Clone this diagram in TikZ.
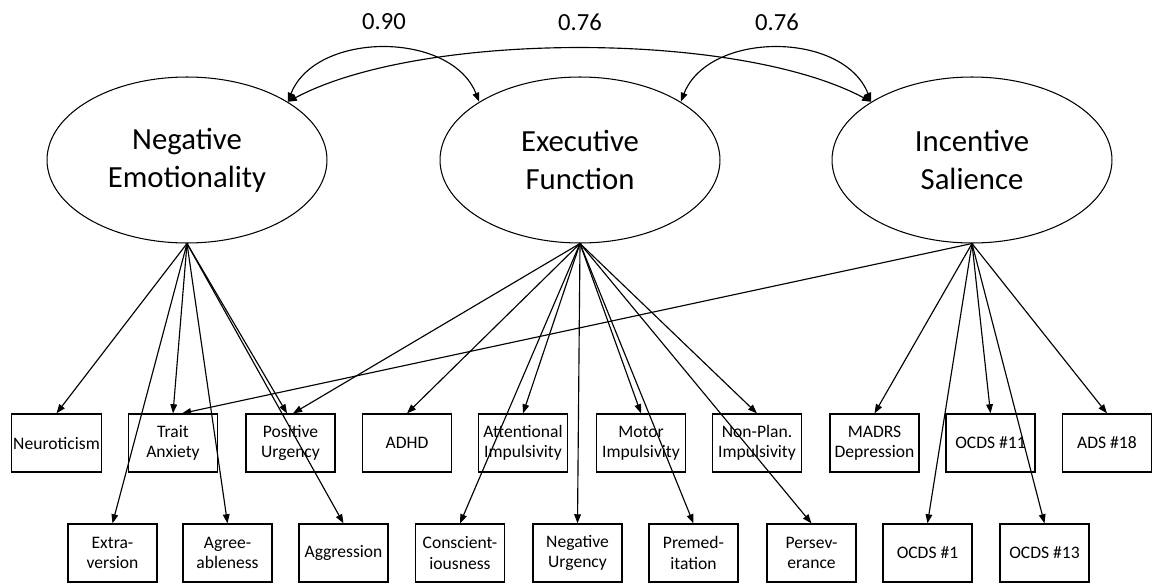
\documentclass[tikz,border=0pt]{standalone}
\usepackage{fontspec}
\setmainfont{Carlito}
\usetikzlibrary{shapes.geometric,arrows.meta}

\begin{document}
\begin{tikzpicture}[x=0.02cm,y=-0.02cm,
  >={Triangle[length=5.2pt,width=3.8pt]},
  latent/.style={draw,ellipse,line width=0.6pt,minimum width=5.6cm,minimum height=3.32cm,inner sep=0pt,align=center,font=\fontsize{17.5}{21.5}\selectfont},
  obs/.style={draw,rectangle,line width=0.7pt,minimum width=1.78cm,minimum height=1.16cm,inner sep=1pt,align=center,font=\fontsize{10}{11.5}\selectfont},
  load/.style={->,line width=0.65pt},
  cov/.style={<->,line width=0.65pt},
  wt/.style={font=\fontsize{14}{16}\selectfont}]
\useasboundingbox (0,0) rectangle (1157,585);
% latent factors
\node[latent] (ne) at (187,160) {Negative\\Emotionality};
\node[latent] (ef) at (580,160) {Executive\\Function};
\node[latent] (is) at (972,160) {Incentive\\Salience};
% correlations
\draw[cov] (ne.30) .. controls +(28,-71) and +(-28,-71) .. (ef.150);
\draw[cov] (ef.30) .. controls +(28,-71) and +(-28,-71) .. (is.150);
\draw[cov] (ne.30) .. controls +(133,-71) and +(-133,-71) .. (is.150);
\node[wt] (r1) at (384,22) {0.90};
\node[wt] (r2) at (580,22) {0.76};
\node[wt] (r3) at (777,22) {0.76};
% indicators, upper row
\node[obs] (neu) at (56.5,443) {Neuroticism};
\node[obs] (ta) at (173,443) {Trait\\Anxiety};
\node[obs] (pu) at (290.5,443) {Positive\\Urgency};
\node[obs] (adhd) at (407,443) {ADHD};
\node[obs] (ai) at (523,443) {Attentional\\Impulsivity};
\node[obs] (mi) at (641,443) {Motor\\Impulsivity};
\node[obs] (npi) at (757,443) {Non-Plan.\\Impulsivity};
\node[obs] (madrs) at (874.5,443) {MADRS\\Depression};
\node[obs] (o11) at (990.5,443) {OCDS \#11};
\node[obs] (ads) at (1107,443) {ADS \#18};
% indicators, lower row
\node[obs] (ev) at (112.5,553) {Extra-\\version};
\node[obs] (ag) at (227.5,553) {Agree-\\ableness};
\node[obs] (agg) at (343.5,553) {Aggression};
\node[obs] (con) at (460,553) {Conscient-\\iousness};
\node[obs] (nu) at (577.5,553) {Negative\\Urgency};
\node[obs] (pre) at (693.5,553) {Premed-\\itation};
\node[obs] (per) at (811.5,553) {Persev-\\erance};
\node[obs] (o1) at (927.5,553) {OCDS \#1};
\node[obs] (o13) at (1044.5,553) {OCDS \#13};
% loadings
\foreach \t in {neu,ev,ta,ag,agg} \draw[load] (ne.south) -- (\t.north);
\draw[load] (ne.south) -- ([xshift=-0.07cm]pu.north);
\foreach \t in {adhd,ai,con,nu,mi,pre,npi,per} \draw[load] (ef.south) -- (\t.north);
\draw[load] (ef.south) -- ([xshift=0.05cm]pu.north);
\foreach \t in {madrs,o1,o11,o13,ads} \draw[load] (is.south) -- (\t.north);
\draw[load] (is.south) -- ([xshift=0.18cm]ta.north);
\end{tikzpicture}
\end{document}
